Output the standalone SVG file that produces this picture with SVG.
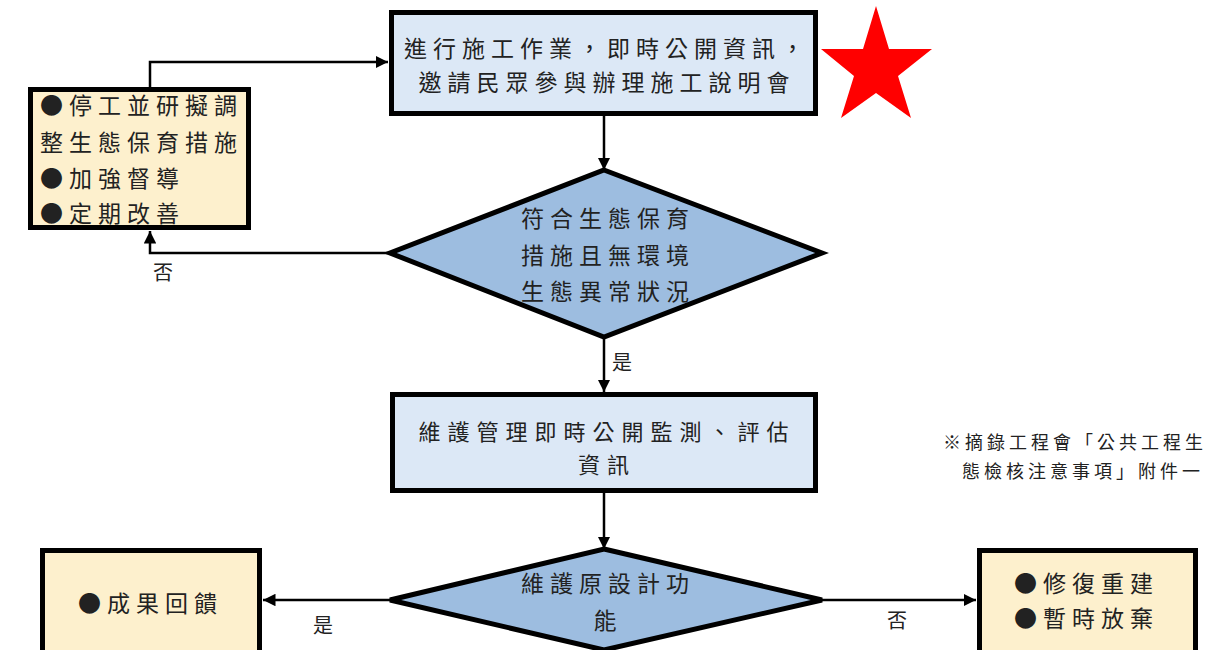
<svg xmlns="http://www.w3.org/2000/svg" width="1223" height="650" viewBox="0 0 1223 650">
<style>
.t{font-family:"Noto Sans CJK TC","Noto Sans CJK SC",sans-serif;font-size:23px;fill:#222;letter-spacing:6px}
.s{font-size:22px;letter-spacing:7px}
.c{text-anchor:middle}
.lb{font-family:"Noto Sans CJK TC","Noto Sans CJK SC",sans-serif;font-size:20px;fill:#222}
.note{font-family:"Noto Sans CJK TC","Noto Sans CJK SC",sans-serif;font-size:18px;fill:#222;letter-spacing:4px}
.blue{fill:#dce8f6;stroke:#000;stroke-width:5}
.beige{fill:#fdf0cd;stroke:#000;stroke-width:5}
.dia{fill:#9dbde0;stroke:#000;stroke-width:5;stroke-linejoin:miter}
.ln{fill:none;stroke:#000;stroke-width:2.5}
</style>
<defs>
<marker id="ah" viewBox="0 0 10 10" refX="10" refY="5" markerWidth="5" markerHeight="5" orient="auto" markerUnits="strokeWidth">
<path d="M0,0 L10,5 L0,10 z" fill="#000"/>
</marker>
</defs>
<rect width="1223" height="650" fill="#fff"/>
<g id="connectors">
<path class="ln" d="M150,87 V62 H388" marker-end="url(#ah)"/>
<path class="ln" d="M604,116 V170" marker-end="url(#ah)"/>
<path class="ln" d="M390,253 H150 V231" marker-end="url(#ah)"/>
<path class="ln" d="M604,337 V392" marker-end="url(#ah)"/>
<path class="ln" d="M604,493 V549" marker-end="url(#ah)"/>
<path class="ln" d="M392,600 H263" marker-end="url(#ah)"/>
<path class="ln" d="M820,600 H976" marker-end="url(#ah)"/>
<text class="lb" x="153" y="280">否</text>
<text class="lb" x="612" y="370">是</text>
<text class="lb" x="313" y="633">是</text>
<text class="lb" x="887" y="628">否</text>
</g>
<g id="n1">
<rect class="blue" x="391.5" y="12.5" width="424" height="101"/>
<text class="t c" x="607" y="57">進行施工作業，即時公開資訊，</text>
<text class="t c" x="607" y="91">邀請民眾參與辦理施工說明會</text>
</g>
<g id="star">
<polygon points="876,6 889,49 932,49 898,76 911,118 876,93 841,118 854,76 821,49 863,49" fill="#ff0000"/>
</g>
<g id="n2">
<rect class="beige" x="30.5" y="89.5" width="218" height="138"/>
<text class="t" x="40" y="114">●停工並研擬調</text>
<text class="t" x="40" y="151">整生態保育措施</text>
<text class="t" x="40" y="187">●加強督導</text>
<text class="t" x="40" y="222">●定期改善</text>
</g>
<g id="d1">
<polygon class="dia" points="604,170 822,253 604,337 390,253"/>
<text class="t c" x="608" y="227">符合生態保育</text>
<text class="t c" x="608" y="264">措施且無環境</text>
<text class="t c" x="608" y="300">生態異常狀況</text>
</g>
<g id="n3">
<rect class="blue" x="392.5" y="394.5" width="423" height="96"/>
<text class="t s c" x="607" y="440">維護管理即時公開監測、評估</text>
<text class="t s c" x="607" y="473">資訊</text>
</g>
<g id="note">
<text class="note" x="943" y="449">※摘錄工程會「公共工程生</text>
<text class="note" x="962" y="478">態檢核注意事項」附件一</text>
</g>
<g id="d2">
<polygon class="dia" points="604,549 822,600 604,650 390,600"/>
<text class="t c" x="608" y="592">維護原設計功</text>
<text class="t c" x="608" y="629">能</text>
</g>
<g id="n4">
<rect class="beige" x="42.5" y="550.5" width="217" height="110"/>
<text class="t" x="78" y="612">●成果回饋</text>
</g>
<g id="n5">
<rect class="beige" x="979.5" y="550.5" width="216" height="110"/>
<text class="t" x="1014" y="592">●修復重建</text>
<text class="t" x="1014" y="627">●暫時放棄</text>
</g>
</svg>
